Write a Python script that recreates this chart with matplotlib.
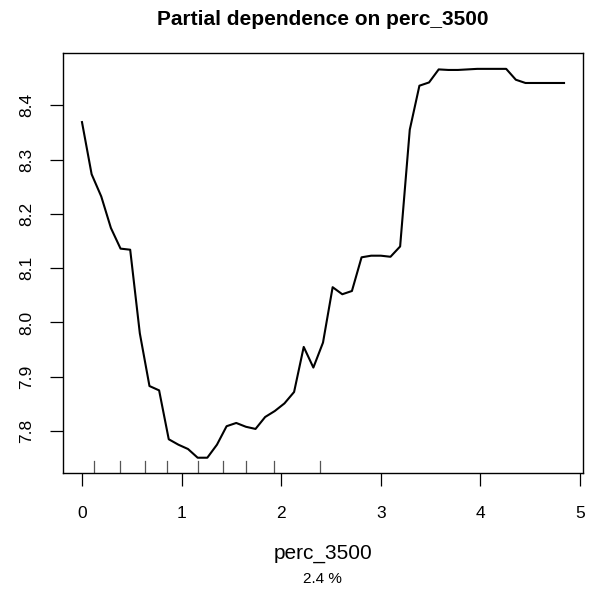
import matplotlib
matplotlib.use("Agg")
import matplotlib.pyplot as plt

# partial dependence grid (perc_3500) and predicted values
grid = [0.0, 0.0968, 0.1936, 0.2904, 0.3872, 0.484, 0.5808, 0.6776, 0.7744, 0.8712,
        0.968, 1.0648, 1.1616, 1.2584, 1.3552, 1.452, 1.5488, 1.6456, 1.7424, 1.8392,
        1.936, 2.0328, 2.1296, 2.2264, 2.3232, 2.42, 2.5168, 2.6136, 2.7104, 2.8072,
        2.904, 3.0008, 3.0976, 3.1944, 3.2912, 3.388, 3.4848, 3.5816, 3.6784, 3.7752,
        3.872, 3.9688, 4.0656, 4.1624, 4.2592, 4.356, 4.4528, 4.5496, 4.6464, 4.7432,
        4.84]
pd_vals = [8.369, 8.273, 8.232, 8.174, 8.136, 8.134, 7.980, 7.883, 7.875, 7.785,
           7.775, 7.767, 7.751, 7.751, 7.775, 7.809, 7.815, 7.808, 7.804, 7.826,
           7.837, 7.851, 7.872, 7.955, 7.917, 7.963, 8.065, 8.052, 8.058, 8.120,
           8.123, 8.123, 8.121, 8.140, 8.355, 8.436, 8.442, 8.466, 8.465, 8.465,
           8.466, 8.467, 8.467, 8.467, 8.467, 8.447, 8.441, 8.441, 8.441, 8.441,
           8.441]
# deciles of perc_3500 shown as rug
deciles = [0.117, 0.386, 0.633, 0.853, 1.169, 1.416, 1.651, 1.928, 2.387]

xticks = [0, 1, 2, 3, 4, 5]
yticks = [7.8, 7.9, 8.0, 8.1, 8.2, 8.3, 8.4]

plt.rcParams['font.family'] = ['Liberation Sans', 'DejaVu Sans']

fig = plt.figure(figsize=(5.96, 5.93), dpi=100)
ax = fig.add_axes([0.1052, 0.2019, 0.8735, 0.7082])

ax.plot(grid, pd_vals, color='black', lw=1.5)

# R-style 4% padding
xr = max(grid) - min(grid)
yr = max(pd_vals) - min(pd_vals)
ax.set_xlim(min(grid) - 0.04 * xr, max(grid) + 0.04 * xr)
ax.set_ylim(min(pd_vals) - 0.04 * yr, max(pd_vals) + 0.04 * yr)

# rug of deciles
for d in deciles:
    ax.axvline(d, ymin=0, ymax=0.03, color='#555555', lw=0.9)

ax.set_xticks(xticks)
ax.set_yticks(yticks)
ax.set_xticklabels([str(t) for t in xticks])
ax.set_yticklabels(['%.1f' % t for t in yticks], rotation=90, va='center')
ax.tick_params(axis='both', direction='out', length=9.5, width=0.9, labelsize=12.5)
ax.tick_params(axis='x', pad=14)
ax.tick_params(axis='y', pad=11)
for s in ax.spines.values():
    s.set_linewidth(1.0)

fig.text(0.5417, 1 - 25 / 593, 'Partial dependence on perc_3500', ha='center', va='baseline',
         fontsize=15, fontweight='bold')
fig.text(0.5417, 1 - 558.3 / 593, 'perc_3500', ha='center', va='baseline', fontsize=15)
fig.text(0.5417, 1 - 582.7 / 593, '2.4 %', ha='center', va='baseline', fontsize=11)

fig.savefig('out.png', dpi=100)
